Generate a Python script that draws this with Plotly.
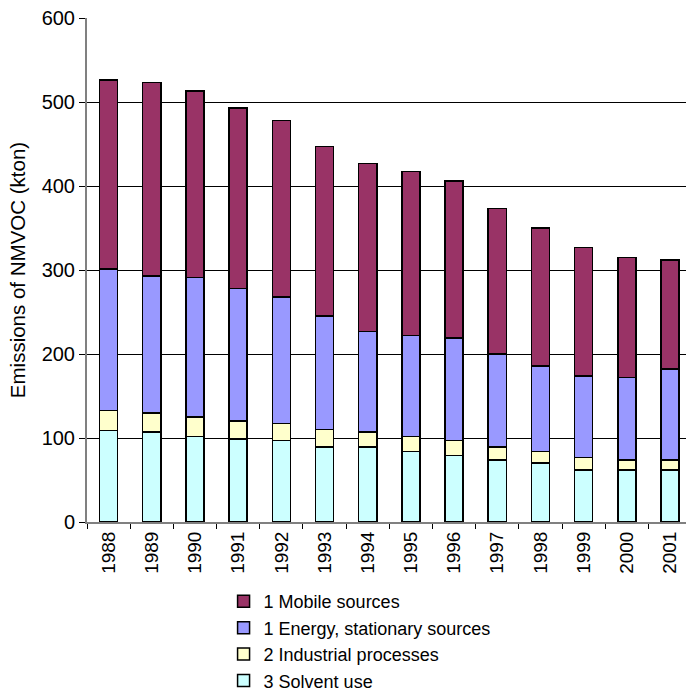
import plotly.graph_objects as go

years = ["1988", "1989", "1990", "1991", "1992", "1993", "1994",
         "1995", "1996", "1997", "1998", "1999", "2000", "2001"]
solvent = [109, 107, 102, 99, 97, 89, 89, 84, 79, 74, 70, 62, 62, 62]
industrial = [24, 23, 23, 21, 20, 21, 18, 18, 18, 15, 14, 15, 12, 12]
energy = [168, 163, 166, 158, 151, 135, 120, 120, 122, 111, 102, 97, 98, 108]
mobile = [225, 230, 222, 215, 210, 202, 200, 195, 187, 173, 164, 153, 143, 130]

series = [
    ("3 Solvent use", solvent, "#CCFFFF"),
    ("2 Industrial processes", industrial, "#FFFFCC"),
    ("1 Energy, stationary sources", energy, "#9999FF"),
    ("1 Mobile sources", mobile, "#993366"),
]

fig = go.Figure()
for name, vals, col in series:
    fig.add_trace(go.Bar(
        x=years, y=vals, name=name,
        marker=dict(color=col, line=dict(color="black", width=1.5)),
        width=0.42,
    ))

font = "Liberation Sans, Arial, sans-serif"
fig.update_layout(
    barmode="stack",
    width=686, height=695,
    margin=dict(l=87, r=0, t=18, b=173, autoexpand=False),
    paper_bgcolor="white", plot_bgcolor="white",
    font=dict(family=font, size=20, color="black"),
    showlegend=True,
    legend=dict(
        traceorder="reversed",
        x=0.228, y=0.161, xanchor="left", yanchor="top", yref="container",
        font=dict(size=18), itemwidth=30,
        bgcolor="rgba(0,0,0,0)",
    ),
    xaxis=dict(
        type="category", range=[-0.5, 13.37], automargin=False,
        tickangle=-90, tickson="boundaries", ticks="outside", ticklen=5,
        tickcolor="black", showline=True, linecolor="#808080", linewidth=2,
        showgrid=False, tickfont=dict(size=19),
    ),
    yaxis=dict(
        range=[0, 600], dtick=100, ticks="outside", ticklen=6, tickcolor="black",
        showline=True, linecolor="#808080", linewidth=2, automargin=False,
        showgrid=True, gridcolor="black", gridwidth=1,
        zeroline=False, tickfont=dict(size=20),
        title=dict(text="Emissions of NMVOC (kton)", font=dict(size=20.5), standoff=10),
    ),
)

fig.write_html("out.html")
